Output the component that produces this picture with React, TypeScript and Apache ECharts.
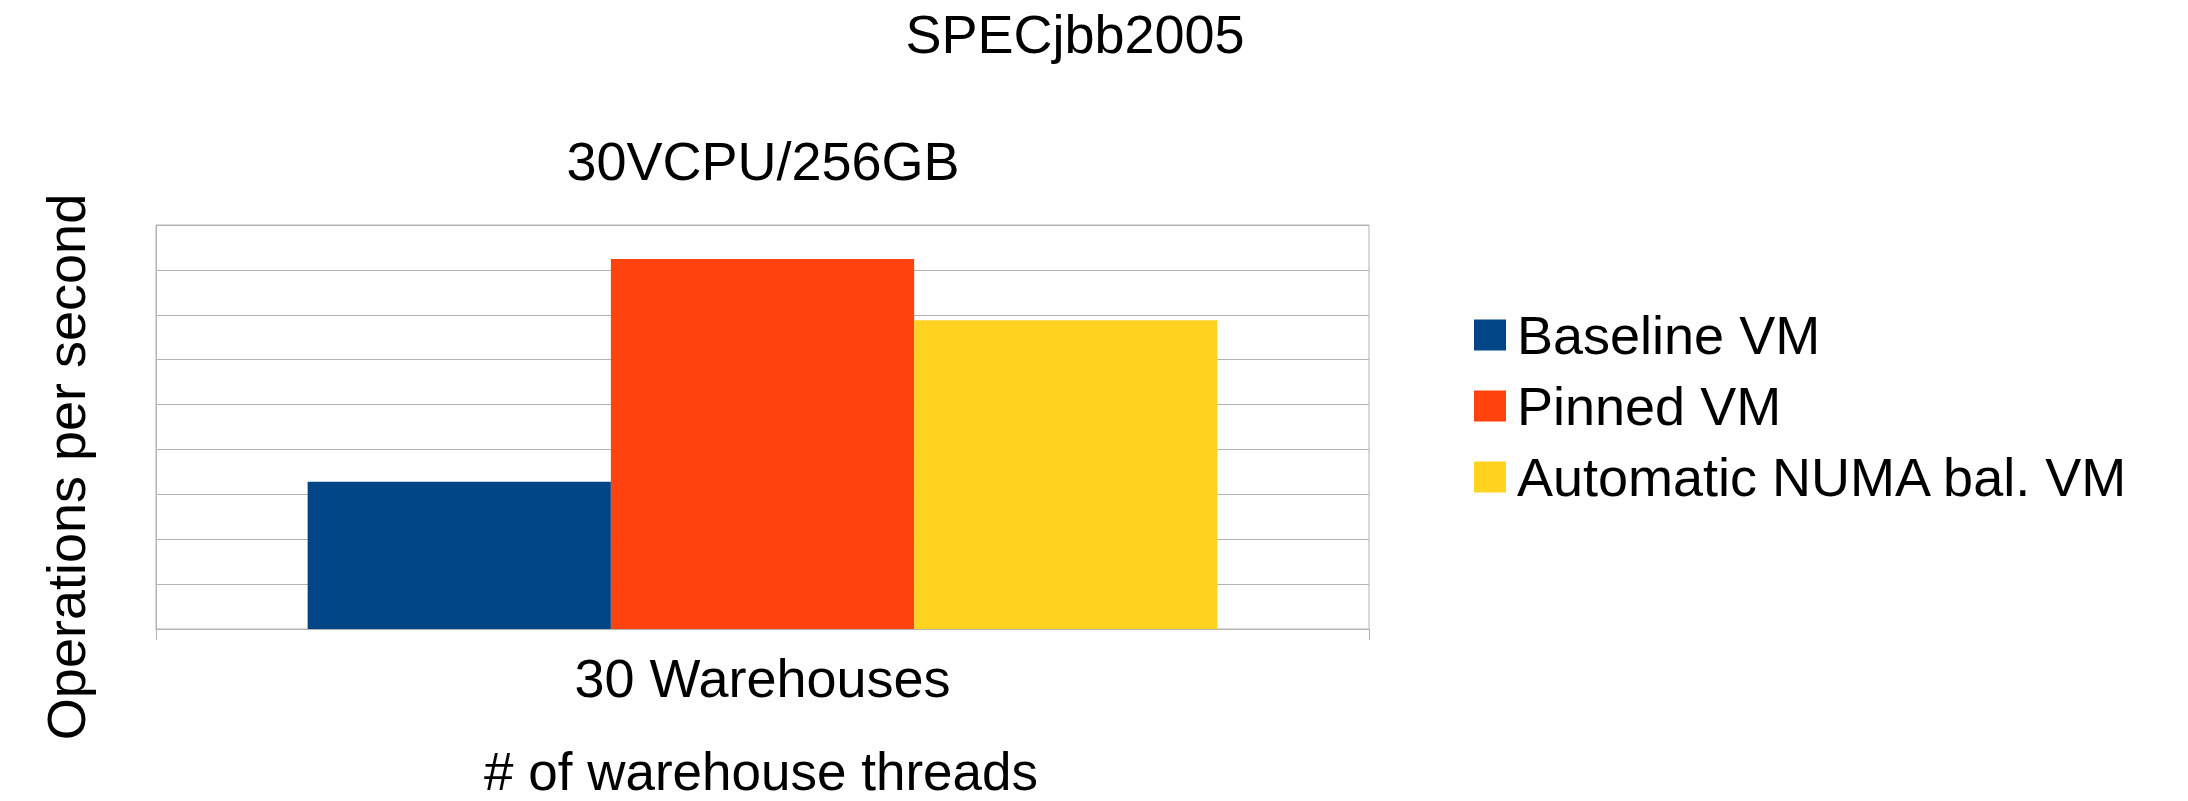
import React, { useEffect, useRef } from "react";
import * as echarts from "echarts";

const chartTitle = "SPECjbb2005";
const chartSubtitle = "30VCPU/256GB";
const yAxisName = "Operations per second";
const xAxisName = "# of warehouse threads";
const categories = ["30 Warehouses"];
const seriesNames = ["Baseline VM", "Pinned VM", "Automatic NUMA bal. VM"];
const baselineValues = [3.28];
const pinnedValues = [8.24];
const numaValues = [6.88];
const seriesColors = ["#004586", "#ff420e", "#ffd320"];
const yMin = 0;
const yMax = 9;
const yInterval = 1;

const FONT = '"Liberation Sans", Arial, sans-serif';
const FS = 54;

function txt(text: string, x: number, y: number, rotation = 0, fs = FS) {
  return {
    type: "text",
    x,
    y,
    rotation,
    silent: true,
    style: {
      text,
      x: 0,
      y: 0,
      fontSize: fs,
      fontFamily: FONT,
      lineHeight: 44,
      fill: "#000000",
      align: "center",
      textAlign: "center",
      verticalAlign: "middle",
      textVerticalAlign: "middle",
    },
  };
}

export default function App() {
  const ref = useRef<HTMLDivElement>(null);
  useEffect(() => {
    document.body.style.margin = "0";
    if (!ref.current) return;
    const chart = echarts.init(ref.current, undefined, { renderer: "svg" });
    const values = [baselineValues, pinnedValues, numaValues];
    chart.setOption({
      animation: false,
      backgroundColor: "#ffffff",
      textStyle: { fontFamily: FONT },
      grid: {
        left: 156,
        top: 225,
        width: 1213,
        height: 404,
        show: true,
        borderColor: "#b3b3b3",
        borderWidth: 1,
        backgroundColor: "transparent",
      },
      legend: {
        orient: "vertical",
        left: 1474,
        top: 308,
        padding: 0,
        itemWidth: 32,
        itemHeight: 31,
        itemGap: 17,
        icon: "rect",
        data: seriesNames,
        textStyle: {
          fontSize: FS,
          lineHeight: 54,
          fontFamily: FONT,
          color: "#000000",
          padding: [0, 0, 0, 6],
        },
      },
      xAxis: {
        type: "category",
        data: categories,
        axisLine: { show: true, lineStyle: { color: "#b3b3b3", width: 1 } },
        axisTick: { show: true, length: 11, lineStyle: { color: "#b3b3b3" } },
        axisLabel: {
          fontSize: FS,
          fontFamily: FONT,
          color: "#000000",
          margin: 22,
          lineHeight: 54,
        },
        splitLine: { show: false },
      },
      yAxis: {
        type: "value",
        min: yMin,
        max: yMax,
        interval: yInterval,
        axisLine: { show: true, lineStyle: { color: "#b3b3b3", width: 1 } },
        axisTick: { show: false },
        axisLabel: { show: false },
        splitLine: { show: true, lineStyle: { color: "#b3b3b3", width: 1 } },
      },
      series: seriesNames.map((name, i) => ({
        name,
        type: "bar",
        data: values[i],
        barGap: "0%",
        barCategoryGap: "25%",
        itemStyle: { color: seriesColors[i] },
        emphasis: { disabled: true },
      })),
      graphic: [
        txt(chartTitle, 1075, 34),
        txt(chartSubtitle, 763, 161),
        txt(xAxisName, 761, 771, 0, 53),
        txt(yAxisName, 66, 467, Math.PI / 2),
      ],
    });
    return () => chart.dispose();
  }, []);
  return <div ref={ref} style={{ width: 2188, height: 801 }} />;
}
